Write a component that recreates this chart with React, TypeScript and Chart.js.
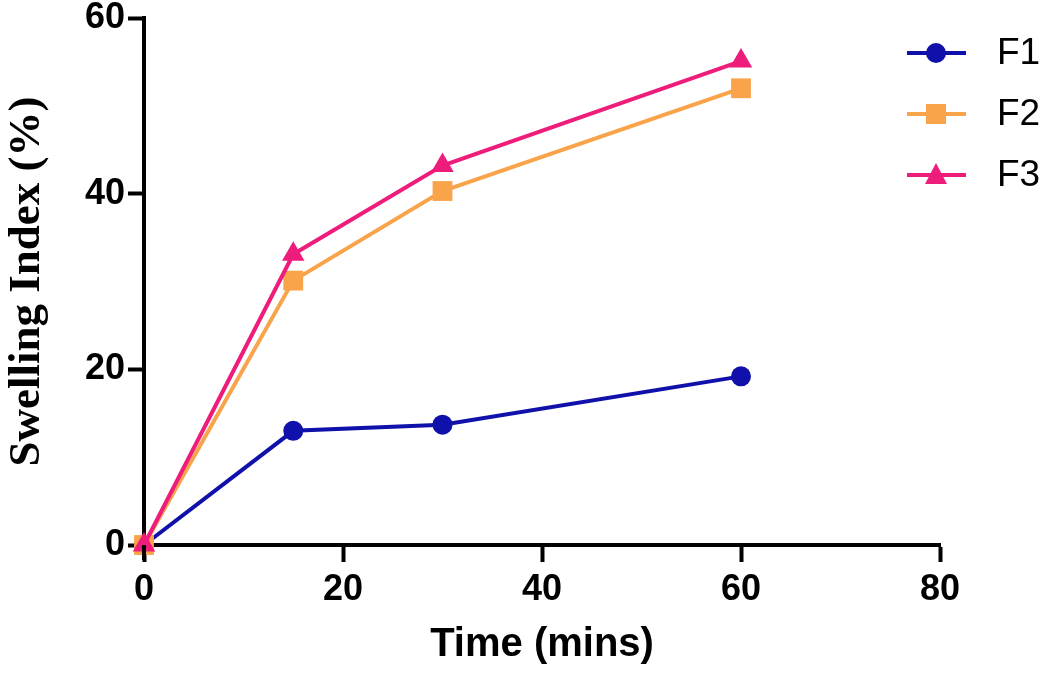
import React, { useEffect, useRef } from "react";
import { Chart, registerables } from "chart.js";

Chart.register(...registerables);

const times = [0, 15, 30, 60];
const f1Values = [0, 13.0, 13.7, 19.2];
const f2Values = [0, 30.1, 40.3, 52.0];
const f3Values = [0, 33.1, 43.2, 55.1];
const seriesNames = ["F1", "F2", "F3"];
const xTicks = [0, 20, 40, 60, 80];
const yTicks = [0, 20, 40, 60];

const colors = ["#1010AA", "#F9A34A", "#EE1C7B"];
const styles = ["circle", "rect", "triangle"];

const legendPlugin = {
  id: "customLegend",
  afterDraw(chart: any) {
    const ctx = chart.ctx;
    const ys = [53, 114, 175];
    ctx.save();
    const xs = chart.scales.x;
    const yScale = chart.scales.y;
    const ax = xs.getPixelForValue(0);
    const ay = yScale.getPixelForValue(0);
    ctx.strokeStyle = "#000";
    ctx.lineWidth = 4;
    ctx.beginPath();
    ctx.moveTo(ax, ay);
    ctx.lineTo(ax, ay + 15);
    ctx.stroke();

    seriesNames.forEach((name, i) => {
      const y = ys[i];
      ctx.strokeStyle = colors[i];
      ctx.fillStyle = colors[i];
      ctx.lineWidth = 4;
      ctx.beginPath();
      ctx.moveTo(907, y);
      ctx.lineTo(966, y);
      ctx.stroke();
      const cx = 936;
      ctx.beginPath();
      if (styles[i] === "circle") {
        ctx.arc(cx, y, 10, 0, Math.PI * 2);
      } else if (styles[i] === "rect") {
        ctx.rect(cx - 10, y - 10, 20, 20);
      } else {
        ctx.moveTo(cx, y - 12);
        ctx.lineTo(cx + 11, y + 9);
        ctx.lineTo(cx - 11, y + 9);
        ctx.closePath();
      }
      ctx.fill();
      ctx.fillStyle = "#000";
      ctx.font = "37px 'Liberation Sans', Arial, sans-serif";
      ctx.textAlign = "left";
      ctx.textBaseline = "middle";
      ctx.fillText(name, 997, y + 1);
    });
    ctx.restore();
  },
};

export default function App() {
  const canvasRef = useRef<HTMLCanvasElement | null>(null);

  useEffect(() => {
    document.body.style.margin = "0";
    const canvas = canvasRef.current;
    if (!canvas) return;
    const mk = (vals: number[]) => times.map((t, i) => ({ x: t, y: vals[i] }));
    const allVals = [f1Values, f2Values, f3Values];
    const radii = [10, 14, 13];
    const chart = new Chart(canvas, {
      type: "line",
      data: {
        datasets: seriesNames.map((name, i) => ({
          label: name,
          data: mk(allVals[i]),
          borderColor: colors[i],
          backgroundColor: colors[i],
          borderWidth: 4,
          pointStyle: styles[i] as any,
          pointRadius: radii[i],
          pointBorderWidth: 0,
          pointBackgroundColor: colors[i],
          tension: 0,
          clip: false as any,
          order: 2 - i,
        })),
      },
      options: {
        responsive: false,
        animation: false,
        layout: { padding: { top: 18, right: 110, left: 0, bottom: 0 } },
        plugins: {
          legend: { display: false },
          tooltip: { enabled: false },
        },
        scales: {
          x: {
            type: "linear",
            min: 0,
            max: 80,
            afterBuildTicks: (s: any) => {
              s.ticks = xTicks.map((v) => ({ value: v }));
            },
            afterFit: (s: any) => {
              s.height = 130;
            },
            border: { display: true, color: "#000", width: 4 },
            grid: {
              drawOnChartArea: false,
              drawTicks: true,
              tickLength: 17,
              tickWidth: 4,
              tickColor: "#000",
              color: "#000",
            },
            ticks: {
              color: "#000",
              padding: 6,
              font: { family: "'Liberation Sans', Arial, sans-serif", size: 36, weight: "bold" },
            },
            title: {
              display: true,
              text: "Time (mins)",
              color: "#000",
              padding: { top: 0, bottom: 6 },
              font: { family: "'Liberation Sans', Arial, sans-serif", size: 40, weight: "bold" },
            },
          },
          y: {
            type: "linear",
            min: 0,
            max: 60,
            afterBuildTicks: (s: any) => {
              s.ticks = yTicks.map((v) => ({ value: v }));
            },
            afterFit: (s: any) => {
              s.width = 144;
            },
            border: { display: true, color: "#000", width: 4 },
            grid: {
              drawOnChartArea: false,
              drawTicks: true,
              tickLength: 16,
              tickWidth: 4,
              tickColor: "#000",
              color: "#000",
            },
            ticks: {
              color: "#000",
              padding: 3,
              font: { family: "'Liberation Sans', Arial, sans-serif", size: 36, weight: "bold", lineHeight: 0.8 },
            },
            title: {
              display: true,
              text: "Swelling Index (%)",
              color: "#000",
              padding: { top: 0, bottom: 0 },
              font: { family: "'Liberation Serif', 'Times New Roman', serif", size: 45, weight: "bold" },
            },
          },
        },
      },
      plugins: [legendPlugin],
    });
    return () => chart.destroy();
  }, []);

  return (
    <div style={{ width: 1050, height: 675 }}>
      <canvas ref={canvasRef} width={1050} height={675} />
    </div>
  );
}
